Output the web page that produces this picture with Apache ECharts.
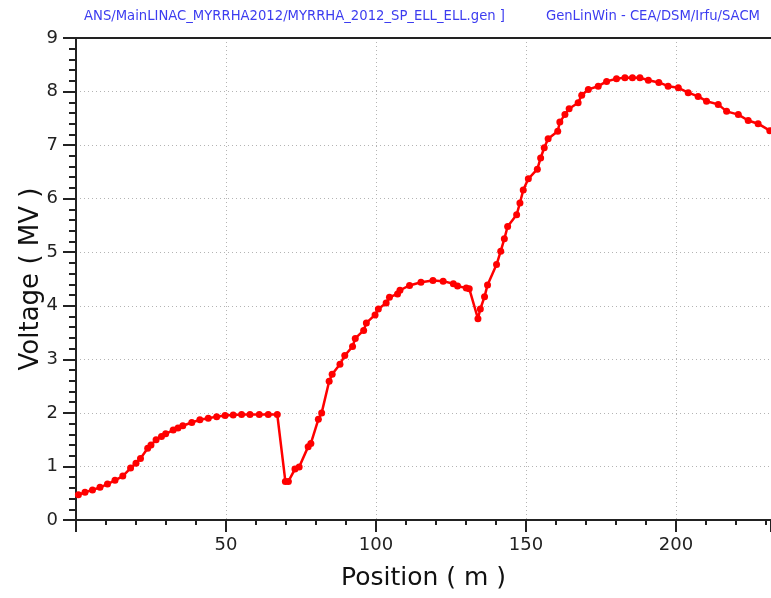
<!DOCTYPE html>
<html>
<head>
<meta charset="utf-8">
<script src="https://cdn.jsdelivr.net/npm/echarts@6/dist/echarts.min.js"></script>
<style>
  html, body { margin: 0; padding: 0; background: #fff; }
  #chart { width: 771px; height: 598px; }
</style>
</head>
<body>
<div id="chart"></div>
<script>
// positions (m)
var position = [
  0.8, 3.0, 5.5, 8.0, 10.5, 13.0, 15.6, 18.2, 20.0, 21.5, 23.9, 25.0, 26.7, 28.5, 29.9,
  32.4, 34.0, 35.6, 38.6, 41.3, 44.1, 46.9, 49.7, 52.4, 55.2, 58.0, 61.1, 64.1, 67.1,
  69.8, 70.8, 73.0, 74.4, 77.4, 78.3, 80.8, 81.9, 84.4, 85.4, 88.0, 89.6, 92.2, 93.1,
  95.9, 96.8, 99.7, 100.8, 103.4, 104.5, 107.2, 108.0, 111.2, 115.0, 119.0, 122.4,
  125.8, 127.2, 130.1, 131.1, 134.0, 134.8, 136.2, 137.2, 140.2, 141.6, 142.8, 143.9,
  146.9, 148.0, 149.1, 150.8, 153.8, 154.9, 156.1, 157.4, 160.6, 161.3, 163.0, 164.4,
  167.4, 168.6, 170.8, 174.1, 176.9, 180.2, 183.0, 185.5, 188.0, 190.8, 194.3, 197.4,
  200.8, 204.1, 207.4, 210.2, 214.1, 216.9, 220.8, 224.1, 227.4, 231.3
];
// voltage (MV)
var voltage = [
  0.47, 0.52, 0.56, 0.61, 0.67, 0.74, 0.82, 0.97, 1.06, 1.15, 1.34, 1.40, 1.50, 1.56, 1.61,
  1.68, 1.72, 1.76, 1.82, 1.87, 1.90, 1.93, 1.95, 1.96, 1.97, 1.97, 1.97, 1.97, 1.97,
  0.72, 0.72, 0.95, 0.99, 1.37, 1.43, 1.88, 2.00, 2.59, 2.72, 2.91, 3.07, 3.24, 3.39,
  3.54, 3.68, 3.83, 3.94, 4.05, 4.16, 4.22, 4.29, 4.38, 4.44, 4.47, 4.46,
  4.41, 4.37, 4.33, 4.32, 3.76, 3.94, 4.17, 4.39, 4.77, 5.02, 5.25, 5.48,
  5.70, 5.92, 6.16, 6.37, 6.55, 6.76, 6.95, 7.12, 7.26, 7.43, 7.57, 7.68,
  7.79, 7.93, 8.04, 8.10, 8.19, 8.24, 8.26, 8.26, 8.26, 8.21, 8.17, 8.10,
  8.07, 7.98, 7.91, 7.82, 7.76, 7.63, 7.57, 7.46, 7.40, 7.27
];
var headerLeft = 'ANS/MainLINAC_MYRRHA2012/MYRRHA_2012_SP_ELL_ELL.gen ]';
var headerRight = 'GenLinWin - CEA/DSM/Irfu/SACM';

var points = position.map(function (p, i) { return [p, voltage[i]]; });

var font = 'DejaVu Sans';
var myChart = echarts.init(document.getElementById('chart'));

myChart.setOption({
  animation: false,
  backgroundColor: '#fff',
  title: [
    { text: headerLeft, left: 79, top: 5,
      textStyle: { color: '#3c3cf0', fontSize: 13.2, fontWeight: 'normal', fontFamily: font } },
    { text: headerRight, right: 6, top: 5,
      textStyle: { color: '#3c3cf0', fontSize: 13.2, fontWeight: 'normal', fontFamily: font } }
  ],
  grid: { left: 76, right: 0, top: 38, bottom: 78 },
  xAxis: [{
    type: 'value',
    min: 0,
    max: 231.7,
    interval: 50,
    name: 'Position ( m )',
    nameLocation: 'middle',
    nameGap: 46,
    nameMoveOverlap: false,
    nameTextStyle: { fontSize: 25, color: '#111', fontFamily: font },
    axisLine: { lineStyle: { color: '#222', width: 2 } },
    axisTick: { length: 12, lineStyle: { color: '#222', width: 2 } },
    minorTick: { show: true, splitNumber: 5, length: 5, lineStyle: { color: '#222', width: 2 } },
    axisLabel: {
      fontSize: 18, color: '#222', fontFamily: font, margin: 16,
      showMinLabel: false, showMaxLabel: false
    },
    splitLine: { show: true, lineStyle: { color: '#b4b4b4', type: [1, 3], width: 1 } }
  }, {
    type: 'value',
    position: 'top',
    min: 0,
    max: 231.7,
    axisLine: { show: true, onZero: false, lineStyle: { color: '#222', width: 2 } },
    axisTick: { show: false },
    axisLabel: { show: false },
    splitLine: { show: false }
  }],
  yAxis: {
    type: 'value',
    min: 0,
    max: 9,
    interval: 1,
    name: 'Voltage ( MV )',
    nameLocation: 'middle',
    nameRotate: 90,
    nameGap: 32,
    nameMoveOverlap: false,
    nameTextStyle: { fontSize: 26, color: '#111', fontFamily: font },
    axisLine: { show: true, lineStyle: { color: '#222', width: 2 } },
    axisTick: { show: true, length: 13, lineStyle: { color: '#222', width: 2 } },
    minorTick: { show: true, splitNumber: 5, length: 7, lineStyle: { color: '#222', width: 2 } },
    axisLabel: { fontSize: 18, color: '#222', fontFamily: font, margin: 18 },
    splitLine: { show: true, lineStyle: { color: '#b4b4b4', type: [1, 3], width: 1 } }
  },
  series: [{
    type: 'line',
    data: points,
    symbol: 'circle',
    symbolSize: 7,
    lineStyle: { color: '#ff0000', width: 2.5 },
    itemStyle: { color: '#ff0000' },
    clip: true
  }]
});
</script>
</body>
</html>
